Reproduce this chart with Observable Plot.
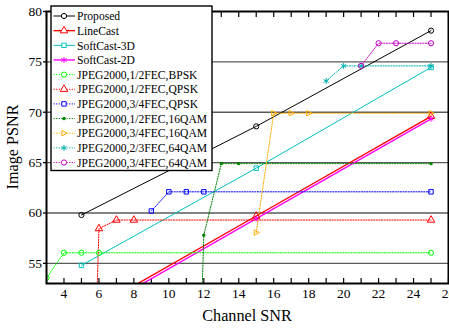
<!DOCTYPE html>
<html><head><meta charset="utf-8">
<script src="https://cdn.jsdelivr.net/npm/d3@7"></script>
<script src="https://cdn.jsdelivr.net/npm/@observablehq/plot@0.6"></script>
<style>
html,body{margin:0;padding:0;background:#fff;}
#wrap{position:relative;width:449px;height:330px;overflow:hidden;font-family:"Liberation Serif",serif;}
#wrap svg{display:block;}
#overlay{position:absolute;left:0;top:0;pointer-events:none;}
</style></head><body><div id="wrap"></div>
<script>
// ---- data ----
const names = ["Proposed","LineCast","SoftCast-3D","SoftCast-2D","JPEG2000,1/2FEC,BPSK","JPEG2000,1/2FEC,QPSK","JPEG2000,3/4FEC,QPSK","JPEG2000,1/2FEC,16QAM","JPEG2000,3/4FEC,16QAM","JPEG2000,2/3FEC,64QAM","JPEG2000,3/4FEC,64QAM"];
const snrProposed = [5,15,25];        const psnrProposed = [59.8,68.6,78.1];
const snrLineCast = [5,15,25];        const psnrLineCast = [49.8,59.7,69.6];
const snrSoft3D = [5,15,25];          const psnrSoft3D = [54.8,64.45,74.45];
const snrSoft2D = [5,15,25];          const psnrSoft2D = [49.5,59.45,69.35];
const snrBPSK12 = [3,4,5,6,25];       const psnrBPSK12 = [53.55,56.05,56.05,56.05,56.05];
const snrQPSK12 = [5,6,7,8,25];       const psnrQPSK12 = [0,58.45,59.3,59.3,59.3];
const snrQPSK34 = [9,10,11,12,25];    const psnrQPSK34 = [60.2,62.1,62.1,62.1,62.1];
const snr16QAM12 = [11,12,13,14,25];  const psnr16QAM12 = [0,57.8,64.9,64.9,64.9];
const snr16QAM34 = [15,16,17,18,25];  const psnr16QAM34 = [58.05,69.9,69.9,69.9,69.9];
const snr64QAM23 = [19,20,21,25];     const psnr64QAM23 = [73.1,74.6,74.6,74.6];
const snr64QAM34 = [21,22,23,25];     const psnr64QAM34 = [74.6,76.85,76.85,76.85];
const xTickLabels = [4,6,8,10,12,14,16,18,20,22,24,26];
const xMinorTicks = d3.range(3,27);
const yTickLabels = [55,60,65,70,75,80];
const yGrid = [55,60,65,70,75];

// ---- styles ----
const colors = ["#000000","#ff0000","#00c0c0","#ff00ff","#00ff00","#ff0000","#0000ff","#008000","#ffaa00","#00b0b0","#c000c0"];
const triRight = {draw(ctx, size){ const s = Math.sqrt(size)*0.55; ctx.moveTo(s*1.15,0); ctx.lineTo(-s*0.75,-s); ctx.lineTo(-s*0.75,s); ctx.closePath(); }};
const symbols = [d3.symbolCircle,d3.symbolTriangle,d3.symbolSquare,d3.symbolAsterisk,d3.symbolCircle,d3.symbolTriangle,d3.symbolSquare,d3.symbolSquare,triRight,d3.symbolAsterisk,d3.symbolCircle];
const filled = [false,false,false,true,false,false,false,true,false,true,false];
const radius = [2.6,2.8,2.5,2.8,2.6,2.8,2.5,1.2,2.8,2.8,2.6];
const dashed = [false,false,false,false,true,true,true,true,true,true,true];
const widths = [1,1.4,1,1.4,1,1,1,1,1,1,1];

const xs = [snrProposed,snrLineCast,snrSoft3D,snrSoft2D,snrBPSK12,snrQPSK12,snrQPSK34,snr16QAM12,snr16QAM34,snr64QAM23,snr64QAM34];
const ys = [psnrProposed,psnrLineCast,psnrSoft3D,psnrSoft2D,psnrBPSK12,psnrQPSK12,psnrQPSK34,psnr16QAM12,psnr16QAM34,psnr64QAM23,psnr64QAM34];

const seriesMarks = [];
const dotMarks = [];
names.forEach((name,i)=>{
  const rows = xs[i].map((x,j)=>({snr:x, psnr:ys[i][j], series:name}));
  seriesMarks.push(Plot.line(rows,{x:"snr",y:"psnr",stroke:colors[i],strokeWidth:widths[i],strokeDasharray:dashed[i]?"1.2,1.4":null,clip:true}));
  const sym = symbols[i];
  const isStrokeSym = sym === d3.symbolAsterisk;
  dotMarks.push(Plot.dot(rows,{x:"snr",y:"psnr",symbol:()=>sym,r:radius[i],
    stroke:colors[i],strokeWidth:1,fill:(filled[i] && !isStrokeSym)?colors[i]:"none",clip:true}));
});

const font = '"Liberation Serif", "Times New Roman", serif';
const chart = Plot.plot({
  width:449, height:330,
  marginLeft:46, marginRight:1, marginTop:11, marginBottom:47,
  style:{fontFamily:font, fontSize:"13.5px", color:"#000", background:"#fff"},
  x:{domain:[3,26]},
  y:{domain:[53,80]},
  marks:[
    Plot.gridY(yGrid,{stroke:"#5a5a5a",strokeOpacity:1,strokeWidth:1.4}),
    Plot.axisY(yTickLabels,{tickSize:3,tickPadding:1.5,label:null,strokeWidth:1.3,fontFamily:font}),
    Plot.axisX(xTickLabels,{tickSize:0,tickPadding:5,label:null,fontFamily:font}),
    Plot.axisX(xMinorTicks,{tickSize:-5,tickFormat:()=>"",label:null,strokeWidth:1.2}),
    Plot.axisX(xMinorTicks,{anchor:"top",tickSize:-5,tickFormat:()=>"",label:null,strokeWidth:1.2}),
    ...seriesMarks,
    ...dotMarks,
    Plot.frame({stroke:"#000",strokeWidth:2})
  ]
});
const wrap = document.getElementById("wrap");
wrap.appendChild(chart);

// ---- overlay: axis titles and legend ----
const ov = d3.select(wrap).append("svg").attr("id","overlay").attr("width",449).attr("height",330)
  .attr("font-family",font);
ov.append("text").attr("x",247).attr("y",321).attr("text-anchor","middle").attr("font-size",16.2).text("Channel SNR");
ov.append("text").attr("transform","translate(18,147) rotate(-90)").attr("text-anchor","middle").attr("font-size",16.2).text("Image PSNR");

const lg = ov.append("g");
lg.append("rect").attr("x",51).attr("y",6).attr("width",161).attr("height",164.5).attr("fill","#fff").attr("stroke","#000").attr("stroke-width",1.4);
names.forEach((name,i)=>{
  const cy = 16 + i*14.65;
  lg.append("line").attr("x1",53.5).attr("x2",75).attr("y1",cy).attr("y2",cy)
    .attr("stroke",colors[i]).attr("stroke-width",widths[i]).attr("stroke-dasharray",dashed[i]?"1.2,1.4":null);
  const sym = symbols[i];
  const isStrokeSym = sym === d3.symbolAsterisk;
  lg.append("path").attr("transform",`translate(64,${cy})`)
    .attr("d",d3.symbol(sym, radius[i]*radius[i]*Math.PI)())
    .attr("stroke",colors[i]).attr("stroke-width",1)
    .attr("fill",(filled[i] && !isStrokeSym)?colors[i]:"#fff");
  lg.append("text").attr("x",77).attr("y",cy+4.2).attr("font-size",11.6).attr("font-family",font).text(name);
});
</script>
</body></html>
